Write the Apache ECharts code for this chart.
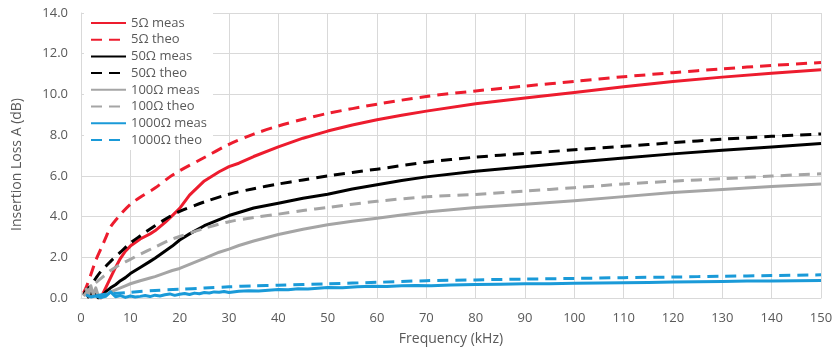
<!DOCTYPE html>
<html>
<head>
<meta charset="utf-8">
<script src="https://cdn.jsdelivr.net/npm/echarts@6/dist/echarts.min.js"></script>
<style>
  html, body { margin: 0; padding: 0; background: #fff; }
  #chart { width: 836px; height: 351px; }
</style>
</head>
<body>
<div id="chart"></div>
<script>
// Frequency grid (kHz) shared by the theoretical curves
const theoFreq = [0.5, 1, 2, 3, 4, 5, 6, 8, 10, 12, 15, 18, 20, 25, 30, 35, 40, 45, 50, 60, 70, 80, 90, 100, 110, 120, 130, 140, 150];
const theo5   = [0.25, 0.5, 1.15, 1.85, 2.4, 2.95, 3.5, 4.1, 4.6, 4.95, 5.4, 5.95, 6.25, 6.9, 7.55, 8.05, 8.45, 8.78, 9.07, 9.52, 9.9, 10.17, 10.41, 10.64, 10.87, 11.07, 11.26, 11.42, 11.57];
const theo50  = [0.15, 0.33, 0.62, 0.97, 1.3, 1.55, 1.8, 2.25, 2.7, 3.05, 3.55, 4.0, 4.25, 4.72, 5.1, 5.37, 5.6, 5.8, 6.0, 6.33, 6.67, 6.92, 7.1, 7.28, 7.45, 7.63, 7.8, 7.94, 8.06];
const theo100 = [0.1, 0.25, 0.5, 0.75, 0.95, 1.15, 1.35, 1.65, 1.9, 2.15, 2.5, 2.85, 3.02, 3.42, 3.75, 3.95, 4.12, 4.3, 4.45, 4.75, 4.97, 5.09, 5.25, 5.42, 5.6, 5.74, 5.86, 5.99, 6.1];

// Frequency grid (kHz) for the 5/50/100 Ω measurements
const measFreq = [1, 1.5, 2, 2.5, 3, 3.5, 4, 4.5, 5, 6, 7, 8, 9, 10, 12, 14, 15, 17, 18.5, 20, 22, 25, 28, 30, 32, 35, 40, 45, 50, 55, 60, 65, 70, 80, 90, 100, 110, 120, 130, 140, 150];
const meas5   = [0.25, 0.1, 0.2, 0.3, 0.3, 0.05, 0.0, 0.25, 0.5, 1.0, 1.5, 1.95, 2.3, 2.55, 2.9, 3.15, 3.3, 3.7, 4.05, 4.4, 5.05, 5.75, 6.2, 6.45, 6.62, 6.95, 7.42, 7.85, 8.2, 8.5, 8.76, 8.98, 9.18, 9.54, 9.83, 10.1, 10.38, 10.63, 10.85, 11.04, 11.21];
const meas50  = [0.3, 0.05, 0.35, 0.1, 0.2, 0.0, 0.05, 0.15, 0.3, 0.5, 0.65, 0.85, 1.0, 1.2, 1.5, 1.8, 1.95, 2.3, 2.55, 2.85, 3.15, 3.55, 3.85, 4.05, 4.2, 4.42, 4.65, 4.9, 5.1, 5.35, 5.56, 5.77, 5.95, 6.23, 6.45, 6.67, 6.88, 7.08, 7.26, 7.42, 7.59];
const meas100 = [0.5, 0.1, 0.6, 0.15, 0.5, 0.1, 0.0, 0.1, 0.15, 0.3, 0.4, 0.5, 0.6, 0.7, 0.85, 0.98, 1.05, 1.22, 1.35, 1.45, 1.65, 1.95, 2.25, 2.4, 2.58, 2.8, 3.12, 3.38, 3.6, 3.77, 3.92, 4.08, 4.22, 4.44, 4.6, 4.78, 4.98, 5.18, 5.33, 5.48, 5.6];

// 1000 Ω curves sit near the floor; the measurement is noisy
const freq1000theo = [3, 5, 10, 15, 20, 25, 30, 35, 40, 50, 60, 70, 80, 90, 100, 110, 120, 130, 140, 150];
const theo1000     = [0.1, 0.18, 0.28, 0.37, 0.43, 0.49, 0.55, 0.6, 0.63, 0.7, 0.77, 0.85, 0.89, 0.93, 0.96, 1.0, 1.03, 1.07, 1.1, 1.14];
const freq1000meas = [1, 2, 3, 4, 5, 6, 7, 8, 9, 10, 11, 12, 13, 14, 15, 16, 17, 18, 19, 20, 21, 22, 23, 24, 25, 26, 27, 28, 29, 30, 32, 34, 36, 38, 40, 42, 44, 46, 48, 50, 53, 56, 59, 62, 65, 68, 71, 75, 80, 85, 90, 95, 100, 105, 110, 115, 120, 125, 130, 135, 140, 145, 150];
const meas1000     = [0.15, 0.05, 0.1, 0.02, 0.08, 0.3, 0.06, 0.12, 0.03, 0.1, 0.05, 0.08, 0.12, 0.07, 0.14, 0.1, 0.16, 0.2, 0.13, 0.18, 0.22, 0.17, 0.24, 0.21, 0.27, 0.25, 0.3, 0.28, 0.32, 0.27, 0.33, 0.36, 0.34, 0.38, 0.42, 0.4, 0.45, 0.44, 0.48, 0.52, 0.5, 0.55, 0.58, 0.56, 0.6, 0.62, 0.6, 0.64, 0.66, 0.67, 0.7, 0.7, 0.72, 0.74, 0.75, 0.76, 0.78, 0.8, 0.81, 0.83, 0.84, 0.85, 0.86];

const seriesNames = ['5Ω meas', '5Ω theo', '50Ω meas', '50Ω theo', '100Ω meas', '100Ω theo', '1000Ω meas', '1000Ω theo'];

const RED = '#ED1C2E', BLACK = '#000000', GRAY = '#A5A5A5', BLUE = '#1A9AD8';
const TEXT = '#595959';
const FONT = '"Open Sans", "Noto Sans", sans-serif';
const DASH = [11, 7];

function pairs(xs, ys) { return xs.map((x, i) => [x, ys[i]]); }

function line(name, xs, ys, color, dashed, smooth) {
  return {
    name, type: 'line', data: pairs(xs, ys), showSymbol: false, symbol: 'none',
    smooth: smooth, animation: false,
    lineStyle: { color, width: 3, type: dashed ? DASH : 'solid', cap: 'butt', join: 'round' },
    itemStyle: { color }
  };
}

const chart = echarts.init(document.getElementById('chart'), null, { renderer: 'canvas' });
chart.setOption({
  backgroundColor: '#fff',
  animation: false,
  grid: { left: 81, right: 15, top: 13, bottom: 52, containLabel: false },
  legend: {
    data: seriesNames,
    orient: 'vertical', left: 84, top: 13,
    backgroundColor: '#fff', padding: [3, 6, 3, 6],
    itemWidth: 35, itemHeight: 14, itemGap: 2.7,
    // keep only the line sample, no marker on it
    itemStyle: { opacity: 0 },
    textStyle: { color: TEXT, fontSize: 13, fontFamily: FONT, lineHeight: 14 }
  },
  xAxis: {
    type: 'value', min: 0, max: 150, interval: 10,
    name: 'Frequency (kHz)', nameLocation: 'middle', nameGap: 34,
    nameTextStyle: { color: TEXT, fontSize: 14, fontFamily: FONT },
    axisLine: { show: true, lineStyle: { color: '#D9D9D9' } },
    axisTick: { show: false },
    axisLabel: { color: TEXT, fontSize: 13, fontFamily: FONT, margin: 14 },
    splitLine: { show: true, lineStyle: { color: '#D9D9D9', width: 1 } }
  },
  yAxis: {
    type: 'value', min: 0, max: 14, interval: 2,
    name: 'Insertion Loss A (dB)', nameLocation: 'middle', nameGap: 57,
    nameTextStyle: { color: TEXT, fontSize: 14, fontFamily: FONT, padding: [0, 18, 0, 0] },
    axisLine: { show: true, lineStyle: { color: '#D9D9D9' } },
    axisTick: { show: false },
    axisLabel: { color: TEXT, fontSize: 13, fontFamily: FONT, margin: 13, formatter: v => v.toFixed(1) },
    splitLine: { show: true, lineStyle: { color: '#D9D9D9', width: 1 } }
  },
  series: [
    line(seriesNames[0], measFreq, meas5, RED, false, false),
    line(seriesNames[1], theoFreq, theo5, RED, true, 0.3),
    line(seriesNames[2], measFreq, meas50, BLACK, false, false),
    line(seriesNames[3], theoFreq, theo50, BLACK, true, 0.3),
    line(seriesNames[4], measFreq, meas100, GRAY, false, false),
    line(seriesNames[5], theoFreq, theo100, GRAY, true, 0.3),
    line(seriesNames[6], freq1000meas, meas1000, BLUE, false, false),
    line(seriesNames[7], freq1000theo, theo1000, BLUE, true, 0.3)
  ]
});
</script>
</body>
</html>
